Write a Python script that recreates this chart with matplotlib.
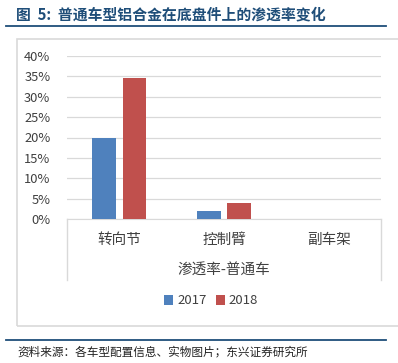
import matplotlib
matplotlib.use("Agg")
import matplotlib.pyplot as plt
import numpy as np
from matplotlib.lines import Line2D
from matplotlib.patches import Rectangle

plt.rcParams['font.family'] = ['Noto Sans CJK SC', 'DejaVu Sans']

# 数据
categories = ["转向节", "控制臂", "副车架"]
group_label = "渗透率-普通车"
years = ["2017", "2018"]
values_2017 = [0.20, 0.02, 0.0]
values_2018 = [0.345, 0.04, 0.0]
yticks = [0, 0.05, 0.10, 0.15, 0.20, 0.25, 0.30, 0.35, 0.40]

title = "图  5:  普通车型铝合金在底盘件上的渗透率变化"
source = "资料来源：各车型配置信息、实物图片；东兴证券研究所"

W, H = 398, 363
fig = plt.figure(figsize=(W / 100, H / 100), dpi=100)

def fx(px):
    return px / W

def fy(py):
    return 1 - py / H

navy = "#1F4E79"
# 标题与分隔线
fig.text(fx(16), fy(14), title, color=navy, fontsize=10.7, fontweight="bold",
         va="center", ha="left")
fig.add_artist(Line2D([fx(6), fx(386)], [fy(25.5), fy(25.5)], color=navy, lw=1.3))
fig.add_artist(Line2D([fx(6), fx(386)], [fy(339.5), fy(339.5)], color=navy, lw=1.3))
fig.text(fx(17), fy(352), source, color="#222222", fontsize=8.4, va="center", ha="left",
         style="italic")

# 图框
fig.add_artist(Rectangle((fx(16.5), fy(326)), fx(400), fy(38.5) - fy(326),
                         transform=fig.transFigure, fill=False, ec="#D9D9D9", lw=1.2))

# 主图
ax = fig.add_axes([fx(67), fy(219), fx(381) - fx(67), fy(56) - fy(219)])
x = np.arange(len(categories))
w = 0.225
off = 0.145
ax.bar(x - off, values_2017, w, color="#4F81BD", label=years[0], zorder=3)
ax.bar(x + off, values_2018, w, color="#C0504D", label=years[1], zorder=3)

ax.set_xlim(-0.5, len(categories) - 0.5)
ax.set_ylim(0, 0.40)
ax.set_yticks(yticks)
ax.set_yticklabels([f"{int(round(t * 100))}%" for t in yticks], fontsize=9.3, color="#404040")
ax.grid(axis="y", color="#D9D9D9", lw=0.9, zorder=0)
for s in ["top", "right", "left"]:
    ax.spines[s].set_visible(False)
ax.spines["bottom"].set_color("#D9D9D9")
ax.tick_params(axis="y", length=0, pad=12)
ax.tick_params(axis="x", length=0)
ax.set_xticks(x)
ax.set_xticklabels(categories, fontsize=10.5, color="#404040")
ax.tick_params(axis="x", pad=10)

# 多级分类轴框线
depth = -(280 - 219) / (219 - 56)
for xv in [-0.5, len(categories) - 0.5]:
    ax.plot([xv, xv], [0, depth], color="#D9D9D9", lw=1,
            transform=ax.get_xaxis_transform(), clip_on=False)
ax.text(1, -(270 - 219) / (219 - 56), group_label, transform=ax.get_xaxis_transform(),
        ha="center", va="center", fontsize=10.5, color="#404040")

# 图例
fig.legend(loc="center", bbox_to_anchor=(fx(211), fy(301)), ncol=2, frameon=False,
           fontsize=9.5, handlelength=0.7, handleheight=0.7, handletextpad=0.3,
           columnspacing=0.7, labelcolor="#404040")

fig.savefig("out.png", dpi=100)
